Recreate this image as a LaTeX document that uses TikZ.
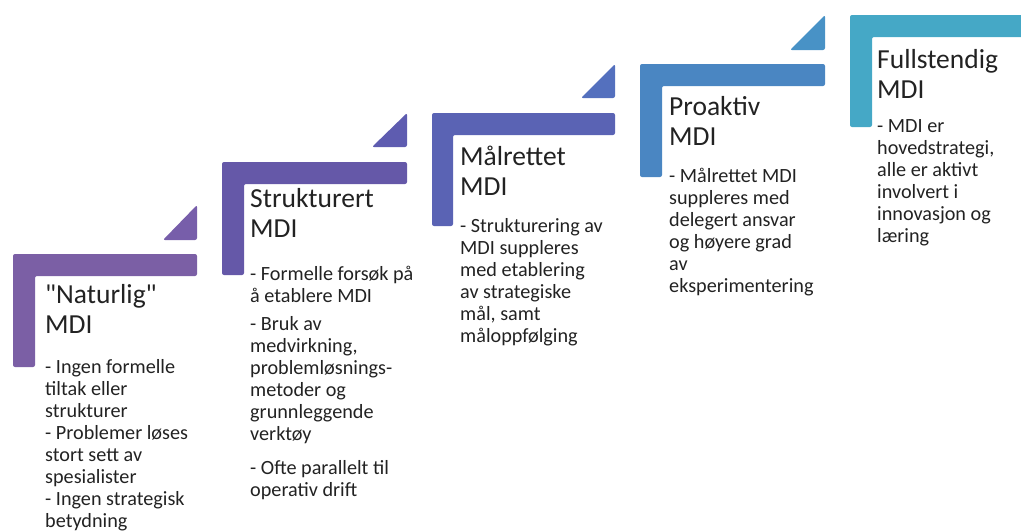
\documentclass[tikz,border=0pt]{standalone}
\usepackage{fontspec}
\setmainfont{Carlito}
\usepackage{tikz}

\definecolor{stepa}{HTML}{7B5FA5}
\definecolor{stepat}{HTML}{775EAA}
\definecolor{stepb}{HTML}{6558A8}
\definecolor{stepbt}{HTML}{5E5CB0}
\definecolor{stepc}{HTML}{5A63B4}
\definecolor{stepct}{HTML}{5470BE}
\definecolor{stepd}{HTML}{4A86C2}
\definecolor{stepdt}{HTML}{4892C6}
\definecolor{stepe}{HTML}{45A8C6}
\definecolor{txt}{HTML}{222222}

\newcommand{\titlesize}{\fontsize{27.5}{30.5}\selectfont}
\newcommand{\bodysize}{\fontsize{20.2}{22}\selectfont}
\newcommand{\titlestrut}{\rule{0pt}{22pt}}
\newcommand{\bodystrut}{\rule{0pt}{16pt}}

\begin{document}
\begin{tikzpicture}[x=1pt,y=-1pt,
    bar/.style={rounded corners=2pt},
    title/.style={anchor=north west,inner sep=0pt,align=left,text=txt,font=\titlesize},
    body/.style={anchor=north west,inner sep=0pt,align=left,text=txt,font=\bodysize}]
                \useasboundingbox (0,0) rectangle (1021,531);
                % steps
                \fill[bar,stepa] (13,254) -- (197,254) -- (197,276) -- (35,276) -- (35,367) -- (13,367) -- cycle;
                \fill[bar,stepat] (197,205) -- (197,240) -- (163,240) -- cycle;
                \fill[bar,stepb] (222,162) -- (407,162) -- (407,184) -- (244,184) -- (244,275) -- (222,275) -- cycle;
                \fill[bar,stepbt] (407,113) -- (407,147) -- (372,147) -- cycle;
                \fill[bar,stepc] (432,113) -- (615,113) -- (615,135) -- (453,135) -- (453,226) -- (432,226) -- cycle;
                \fill[bar,stepct] (615,64) -- (615,98) -- (581,98) -- cycle;
                \fill[bar,stepd] (640,64) -- (825,64) -- (825,86) -- (662,86) -- (662,177) -- (640,177) -- cycle;
                \fill[bar,stepdt] (825,15) -- (825,50) -- (790,50) -- cycle;
                \fill[bar,stepe] (850,15) -- (1030,15) -- (1030,37) -- (872,37) -- (872,127) -- (850,127) -- cycle;
                % titles (first baseline = y + 22)
                \node[title] at (45,281) (t1) {\titlestrut\textquotedbl Naturlig\textquotedbl\\MDI};
                \node[title] at (250,185) (t2) {\titlestrut Strukturert\\MDI};
                \node[title] at (460,143) (t3) {\titlestrut Målrettet\\MDI};
                \node[title] at (669,93) (t4) {\titlestrut Proaktiv\\MDI};
                \node[title] at (877,46) (t5) {\titlestrut Fullstendig\\MDI};
                % descriptions (first baseline = y + 16)
                \node[body] at (45,357) (d1) {\bodystrut- Ingen formelle\\tiltak eller\\strukturer\\- Problemer løses\\stort sett av\\spesialister\\- Ingen strategisk\\betydning};
                \node[body] at (250,264) (d2) {\bodystrut- Formelle forsøk på\\å etablere MDI\\[6pt]- Bruk av\\medvirkning,\\problemløsnings-\\metoder og\\grunnleggende\\verktøy\\[12pt]- Ofte parallelt til\\operativ drift};
                \node[body] at (460,216) (d3) {\bodystrut- Strukturering av\\MDI suppleres\\med etablering\\av strategiske\\mål, samt\\måloppfølging};
                \node[body] at (669,166) (d4) {\bodystrut- Målrettet MDI\\suppleres med\\delegert ansvar\\og høyere grad\\av\\eksperimentering};
                \node[body] at (877,116) (d5) {\bodystrut- MDI er\\hovedstrategi,\\alle er aktivt\\involvert i\\innovasjon og\\læring};
            \end{tikzpicture}
\end{document}
